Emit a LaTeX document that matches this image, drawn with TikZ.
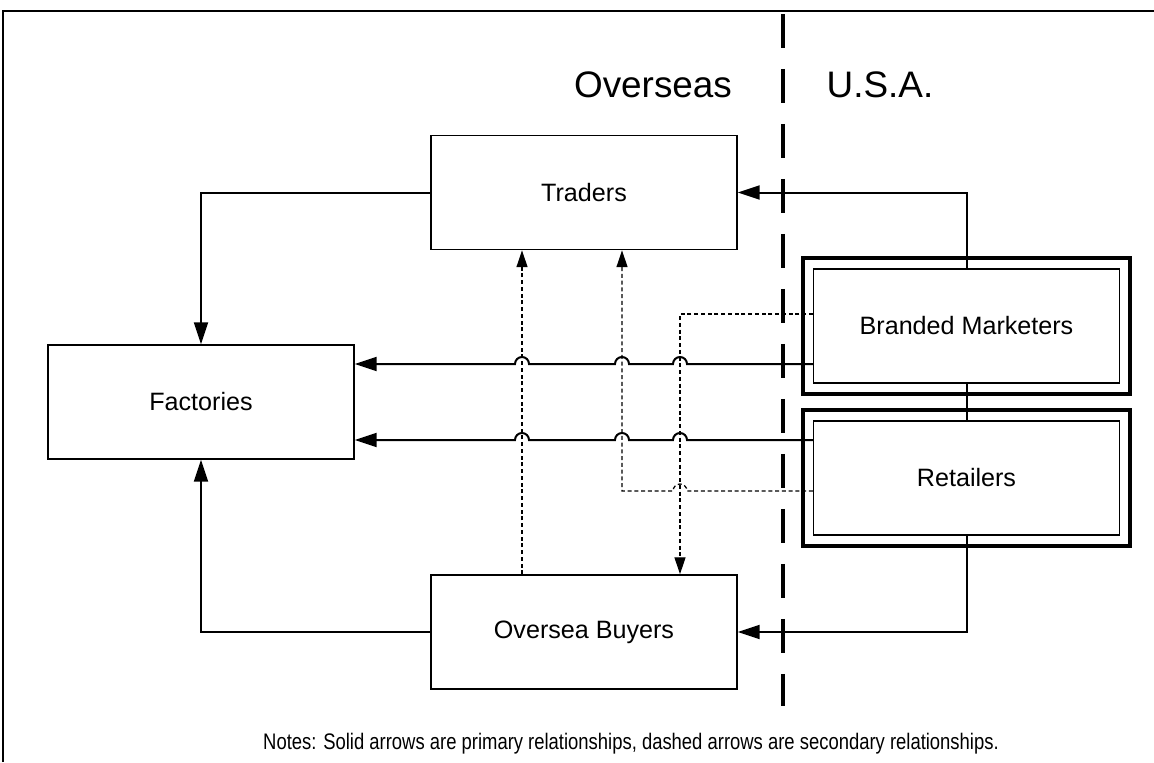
\documentclass[tikz,border=0pt]{standalone}
\usepackage{fontspec}
\setmainfont{Liberation Sans}
\newfontfamily\notefont[FakeStretch=0.82]{Liberation Sans}
\usetikzlibrary{positioning, calc, arrows.meta}

\tikzset{
    unitbox/.style={draw, line width=0.03cm, minimum width=6.12cm, minimum height=2.28cm, inner sep=0pt, font=\fontsize{14.3}{17}\selectfont},
    solidline/.style={line width=0.04cm},
    solidarrow/.style={line width=0.04cm, -{Triangle[length=0.44cm,width=0.28cm]}},
    dashline/.style={line width=0.025cm, dash pattern=on 0.08cm off 0.055cm},
    dasharrow/.style={dashline, -{Triangle[length=0.34cm,width=0.22cm]}},
    border/.style={line width=0.09cm, dash pattern=on 0.68cm off 0.42cm},
    sidelabel/.style={font=\fontsize{21}{25}\selectfont}
}

\begin{document}
\begin{tikzpicture}[x=0.02cm, y=-0.02cm]
            \useasboundingbox (0,0) rectangle (1154,762);
            \draw[line width=0.04cm] (3,762) -- (3,11) -- (1154,11);
            \draw[border] (783,14) -- (783,706);
            \node[sidelabel] (overseas) at (653,85) {Overseas};
            \node[sidelabel] (usa) at (880,85) {U.S.A.};

            \node[unitbox] (traders) at (584,192.5) {Traders};
            \node[unitbox] (factories) at (201,402) {Factories};
            \node[unitbox] (buyers) at (584,632) {Oversea Buyers};
            \node[unitbox] (bm) at (966.5,326) {Branded Marketers};
            \node[unitbox] (ret) at (966.5,478) {Retailers};
            \foreach \n in {bm,ret}{
                \draw[line width=0.08cm] ([shift={(-0.2cm,0.2cm)}]\n.north west) rectangle ([shift={(0.2cm,-0.2cm)}]\n.south east);
            }

            \coordinate (xa) at (522,0);
            \coordinate (xb) at (622,0);
            \coordinate (xc) at (680,0);

            \draw[dasharrow] (buyers.north -| xa) -- (traders.south -| xa);
            \draw[dasharrow] ([yshift=0.24cm]bm.west) -| (buyers.north -| xc);
            \draw[dasharrow] ([yshift=-0.26cm]ret.west) -- (687,491) arc[start angle=0,end angle=180,radius=0.14cm] -- (622,491) -- (traders.south -| xb);

            \draw[solidarrow] (traders.west) -| (factories.north);
            \draw[solidarrow] (bm.north) |- (traders.east);
            \draw[solidline] (bm.south) -- (ret.north);
            \draw[solidarrow] (ret.south) |- (buyers.east);
            \draw[solidarrow] (buyers.west) -| (factories.south);
            \draw[solidarrow] ([yshift=-0.76cm]bm.west) -- (687,364) arc[start angle=0,end angle=180,radius=0.14cm]
                -- (629,364) arc[start angle=0,end angle=180,radius=0.14cm]
                -- (529,364) arc[start angle=0,end angle=180,radius=0.14cm] -- ([yshift=0.76cm]factories.east);
            \draw[solidarrow] ([yshift=0.76cm]ret.west) -- (687,440) arc[start angle=0,end angle=180,radius=0.14cm]
                -- (629,440) arc[start angle=0,end angle=180,radius=0.14cm]
                -- (529,440) arc[start angle=0,end angle=180,radius=0.14cm] -- ([yshift=-0.76cm]factories.east);

            \node[font=\notefont\fontsize{12.8}{15}\selectfont] (notes) at (631,744) {Notes: Solid arrows are primary relationships, dashed arrows are secondary relationships.};
\end{tikzpicture}
\end{document}
